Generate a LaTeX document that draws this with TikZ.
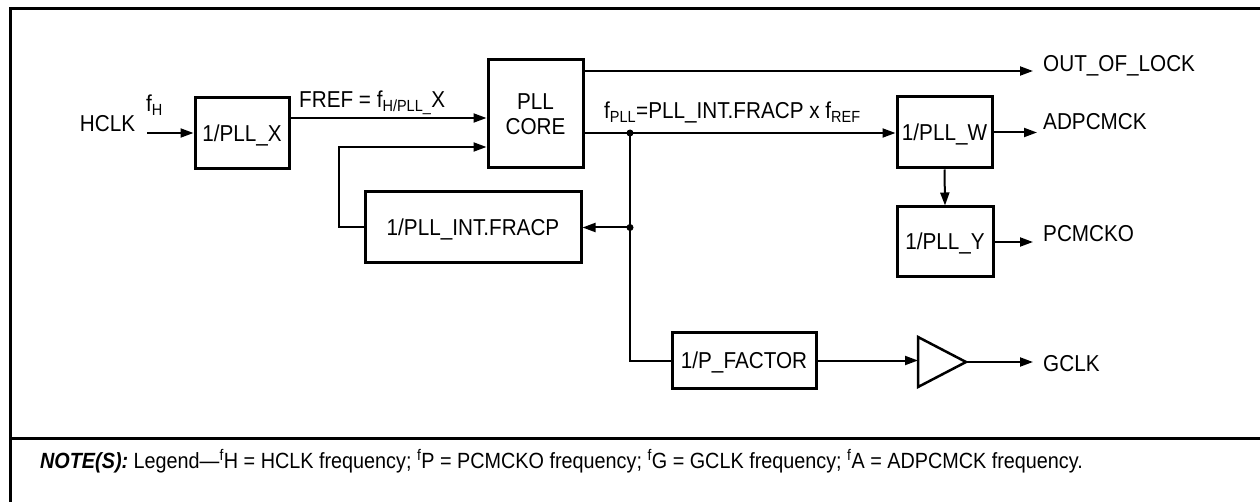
\documentclass[tikz,border=0pt]{standalone}
\usepackage{fontspec}
\setmainfont{Liberation Sans}[FakeStretch=0.9]
\usetikzlibrary{arrows.meta}
\begin{document}
\begin{tikzpicture}[x=1pt,y=-1pt,
  box/.style={draw,line width=3pt,inner sep=0pt,text height=16pt,text depth=0pt,font=\fontsize{23pt}{27pt}\selectfont},
  corebox/.style={draw,line width=3pt,inner sep=0pt,align=center,font=\fontsize{23pt}{25pt}\selectfont},
  lbl/.style={inner sep=0pt,font=\fontsize{23pt}{27pt}\selectfont},
  note/.style={inner sep=0pt,font=\fontsize{22pt}{26pt}\selectfont},
  wire/.style={line width=2pt},
  arr/.style={wire,-{Triangle[length=13pt,width=9pt]}},
  frameline/.style={line width=3pt},
  dot/.style={fill=black}]
\useasboundingbox (0,0) rectangle (1260,502);
% frame
\draw[frameline] (10,504) -- (10,9) -- (1264,9);
\draw[frameline] (10,438) -- (1264,438);
% boxes
\node[box,minimum width=94pt,minimum height=71pt] (pllx) at (242,133.5) {1/PLL\_X};
\node[corebox,minimum width=95pt,minimum height=108pt] (core) at (535.5,114) {PLL\\CORE};
\node[box,minimum width=216pt,minimum height=71pt] (fracp) at (473,227.5) {1/PLL\_INT.FRACP};
\node[box,minimum width=95pt,minimum height=71pt] (pllw) at (944.5,132.5) {1/PLL\_W};
\node[box,minimum width=96pt,minimum height=70pt] (plly) at (945,242) {1/PLL\_Y};
\node[box,minimum width=144pt,minimum height=55pt] (pfact) at (744,360.5) {1/P\_FACTOR};
% amplifier
\coordinate (ampin) at (918,362);
\coordinate (ampout) at (966,362);
\draw[line width=2.5pt,line join=miter] (918,337) -- (ampout) -- (918,387) -- cycle;
% labels
\node[lbl,anchor=base] (hclk) at (107.5,132) {HCLK};
\node[lbl,anchor=base west] (fh) at (146,112) {f\textsubscript{H}};
\node[lbl,anchor=base west] (fref) at (299,108) {FREF = f\textsubscript{H/PLL\_}X};
\node[lbl,anchor=base west] (fpll) at (604,119) {f\textsubscript{PLL}=PLL\_INT.FRACP x f\textsubscript{REF}};
\node[lbl,anchor=base west] (ool) at (1043,72) {OUT\_OF\_LOCK};
\node[lbl,anchor=base west] (adp) at (1043,130) {ADPCMCK};
\node[lbl,anchor=base west] (pcm) at (1043,242) {PCMCKO};
\node[lbl,anchor=base west] (gclk) at (1043,371) {GCLK};
\node[note,anchor=base west] (legend) at (40,468) {\textbf{\textit{NOTE(S):}} Legend—\textsuperscript{f}H = HCLK frequency; \textsuperscript{f}P = PCMCKO frequency; \textsuperscript{f}G = GCLK frequency; \textsuperscript{f}A = ADPCMCK frequency.};
% coordinates for free ends
\coordinate (hclkin) at (147,133);
\coordinate (oolend) at (1033,71);
\coordinate (adpend) at (1037,133);
\coordinate (pcmend) at (1033,242);
\coordinate (gclkend) at (1033,362);
\coordinate (d1) at (630,133);
% connectors
\draw[arr] (hclkin) -- (hclkin -| pllx.west);
\draw[arr] ([yshift=15.5pt]pllx.east) coordinate (fa) -- (fa -| core.west);
\draw[arr] (fracp.west) -- ++(-25,0) |- ([yshift=-33pt]core.west);
\draw[arr] ([yshift=43pt]core.east) coordinate (oa) -- (oolend);
\draw[arr] ([yshift=-19pt]core.east) coordinate (pa) -- (pa -| pllw.west);
\coordinate (d2) at (d1 |- fracp.east);
\draw[wire] (d1) |- (pfact.west);
\draw[arr] (d2) -- (fracp.east);
\fill[dot] (d1) circle (3.5pt);
\fill[dot] (d2) circle (3.5pt);
\draw[arr] (pllw.east) -- (pllw.east -| adpend);
\draw[arr] (pllw.south) -- (plly.north);
\draw[arr] (plly.east) -- (pcmend);
\draw[arr] (pfact.east) -- (pfact.east -| ampin);
\draw[arr] (ampout) -- (gclkend);
\end{tikzpicture}
\end{document}
